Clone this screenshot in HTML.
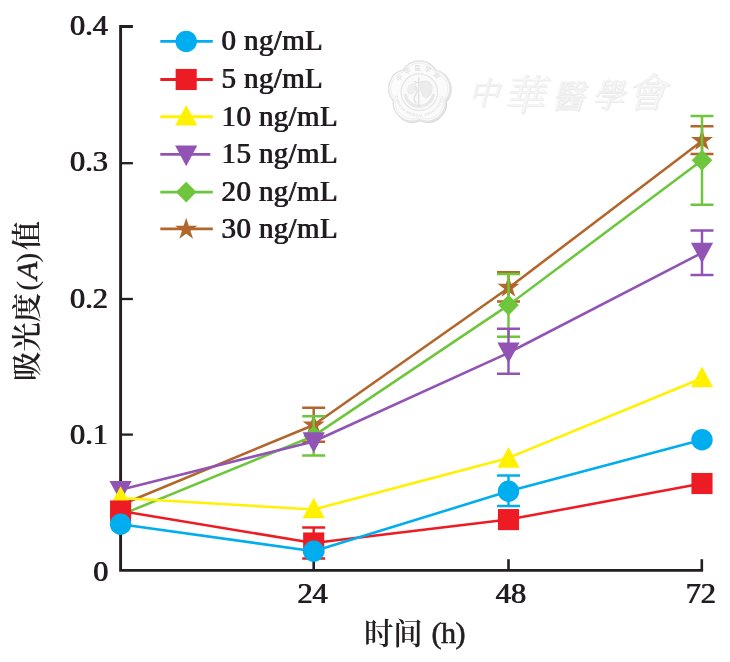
<!DOCTYPE html>
<html lang="zh-CN">
<head>
<meta charset="utf-8">
<title>吸光度(A)值 - 时间 (h)</title>
<style>
html,body{margin:0;padding:0;background:#fff;}
body{width:730px;height:662px;overflow:hidden;}
svg{display:block;}
text{font-family:"Liberation Serif","Noto Serif CJK SC",serif;fill:#231f20;}
.lg{font-size:28.9px;letter-spacing:0.4px;font-weight:normal;}
.tk text{font-size:30.3px;font-weight:normal;}
.ttl{font-family:"Liberation Serif","Noto Serif CJK SC",serif;font-size:29.4px;font-weight:600;}
.lat{font-weight:normal;font-size:30.2px;stroke:#231f20;stroke-width:0.6px;}
.lat2{font-weight:normal;font-size:30.2px;}
.it{stroke:#231f20;stroke-width:0.5px;}
.wmt{font-family:"Liberation Serif","Noto Serif CJK SC","Noto Sans CJK TC",serif;font-weight:300;fill:#f7f7f7;stroke:#eeeeee;stroke-width:0.4px;font-style:italic;}
.wms{font-family:"Liberation Sans","Noto Sans CJK SC",sans-serif;fill:#e2e2e2;font-weight:bold;}
</style>
</head>
<body>
<svg width="730" height="662" viewBox="0 0 730 662">
<rect width="730" height="662" fill="#ffffff"/>
<defs><filter id="semi" x="-5%" y="-5%" width="110%" height="110%"><feOffset dx="0.8" dy="0" result="o"/><feMerge><feMergeNode in="SourceGraphic"/><feMergeNode in="o"/></feMerge></filter><filter id="emb" x="-5%" y="-10%" width="110%" height="125%"><feGaussianBlur stdDeviation="0.45" result="b"/><feOffset in="b" dx="0.9" dy="1.1" result="o"/><feComponentTransfer in="o" result="sh"><feFuncR type="linear" slope="0.93"/><feFuncG type="linear" slope="0.93"/><feFuncB type="linear" slope="0.93"/></feComponentTransfer><feMerge><feMergeNode in="sh"/><feMergeNode in="b"/></feMerge></filter></defs>
<g id="watermark" filter="url(#emb)">
<path d="M403.18 70.02 A18.8 18.8 0 0 1 435.42 70.02 A18.8 18.8 0 0 1 445.38 100.67 A18.8 18.8 0 0 1 419.3 119.62 A18.8 18.8 0 0 1 393.22 100.67 A18.8 18.8 0 0 1 403.18 70.02Z" fill="#fbfbfb" stroke="#e3e3e3" stroke-width="1.5"/>
<path d="M404.28 71.53 A17.6 17.6 0 0 1 434.32 71.53 A17.6 17.6 0 0 1 443.6 100.1 A17.6 17.6 0 0 1 419.3 117.75 A17.6 17.6 0 0 1 395 100.1 A17.6 17.6 0 0 1 404.28 71.53Z" fill="none" stroke="#ebebeb" stroke-width="0.8"/>
<circle cx="419.3" cy="92.2" r="18.3" fill="#fafafa" stroke="#e4e4e4" stroke-width="1.1"/>
<path d="M405.1 93.7 A14.3 14.3 0 0 0 433.5 93.7" fill="none" stroke="#e9e9e9" stroke-width="3.2"/>
<path d="M420.8 83.2 q4 -4 9 -1 q4 4 2 9 q-1 5 -6 7 q-3 -1 -4 -5 q-2 -4 -1 -10z" fill="#ececec" stroke="#e4e4e4" stroke-width="0.7"/>
<path d="M407.3 88.2 q3 -5 8 -5 q2 4 0 8 q-3 4 -7 2z" fill="#efefef" stroke="#e6e6e6" stroke-width="0.6"/>
<path d="M418.8 77.2 V106.2 M414.3 81.2 q4.5 3 9 0 M415.3 86.2 q3.5 5 0 9 q-3 4 1 8" fill="none" stroke="#e0e0e0" stroke-width="1.3"/>
<path id="arcT" d="M397.3 92.2 A22 22 0 0 1 441.3 92.2" fill="none"/>
<path id="arcB" d="M394.8 92.2 A24.5 24.5 0 0 0 443.8 92.2" fill="none"/>
<text class="wms" font-size="6.2" letter-spacing="3.4" fill="#dcdcdc"><textPath href="#arcT" startOffset="50%" text-anchor="middle">中华医学会</textPath></text>
<text class="wms" font-size="3.6" letter-spacing="0.35"><textPath href="#arcB" startOffset="50%" text-anchor="middle">CHINESE MEDICAL ASSOCIATION</textPath></text>
<text class="wmt" x="468" y="103.5" font-size="31">中</text>
<text class="wmt" x="502.5" y="110" font-size="42">華</text>
<text class="wmt" x="551" y="108" font-size="33">醫</text>
<text class="wmt" x="591" y="106.5" font-size="33">學</text>
<text class="wmt" x="626" y="106.5" font-size="40">會</text>
</g>
<g fill="none" stroke="#231f20" stroke-width="2.9" stroke-linecap="butt">
<path d="M120.6 25.05 V570.4 H703.1" stroke-linejoin="miter"/>
<path d="M120.6 434.6 H132.9" stroke-width="2.3"/>
<path d="M120.6 299 H132.9" stroke-width="2.3"/>
<path d="M120.6 163.2 H132.9" stroke-width="2.3"/>
<path d="M120.6 26.5 H132.9" stroke-width="3.0"/>
<path d="M313.7 570.4 V559.2" stroke-width="2.6"/>
<path d="M508.5 570.4 V559.2" stroke-width="2.6"/>
<path d="M701.8 570.4 V559.2" stroke-width="2.6"/>
</g>
<g id="s-brown">
<polyline points="120.6,505 313.7,425 508.5,288 702,140.9" fill="none" stroke="#b2662a" stroke-width="2.55" stroke-linejoin="round"/>
<path d="M302.2 407.7 H325.2 M302.2 441.7 H325.2 M313.7 407.7 V441.7" fill="none" stroke="#b2662a" stroke-width="2.45"/>
<path d="M497 272.2 H520 M497 301.5 H520 M508.5 272.2 V301.5" fill="none" stroke="#b2662a" stroke-width="2.45"/>
<path d="M690.5 126.3 H713.5 M690.5 154 H713.5 M702 126.3 V154" fill="none" stroke="#b2662a" stroke-width="2.45"/>
<polygon points="120.6,493.8 123.22,501.85 131.68,501.85 124.83,506.83 127.45,514.88 120.6,509.9 113.75,514.88 116.37,506.83 109.52,501.85 117.98,501.85" fill="#b2662a"/>
<polygon points="313.7,413.5 316.32,421.55 324.78,421.55 317.93,426.53 320.55,434.58 313.7,429.6 306.85,434.58 309.47,426.53 302.62,421.55 311.08,421.55" fill="#b2662a"/>
<polygon points="508.5,275.7 511.12,283.75 519.58,283.75 512.73,288.73 515.35,296.78 508.5,291.8 501.65,296.78 504.27,288.73 497.42,283.75 505.88,283.75" fill="#b2662a"/>
<polygon points="702,128.9 704.62,136.95 713.08,136.95 706.23,141.93 708.85,149.98 702,145 695.15,149.98 697.77,141.93 690.92,136.95 699.38,136.95" fill="#b2662a"/>
</g>
<g id="s-green">
<polyline points="120.6,515 313.7,435.9 508.5,305.1 702,160.3" fill="none" stroke="#6dc63c" stroke-width="2.55" stroke-linejoin="round"/>
<path d="M302.2 416.2 H325.2 M302.2 455.5 H325.2 M313.7 416.2 V455.5" fill="none" stroke="#6dc63c" stroke-width="2.45"/>
<path d="M497 273.9 H520 M497 336.8 H520 M508.5 273.9 V336.8" fill="none" stroke="#6dc63c" stroke-width="2.45"/>
<path d="M690.5 116 H713.5 M690.5 204.8 H713.5 M702 116 V204.8" fill="none" stroke="#6dc63c" stroke-width="2.45"/>
<polygon points="120.6,504.6 130.9,515 120.6,525.4 110.3,515" fill="#6dc63c"/>
<polygon points="313.7,425.5 324,435.9 313.7,446.3 303.4,435.9" fill="#6dc63c"/>
<polygon points="508.5,294.7 518.8,305.1 508.5,315.5 498.2,305.1" fill="#6dc63c"/>
<polygon points="702,149.9 712.3,160.3 702,170.7 691.7,160.3" fill="#6dc63c"/>
</g>
<g id="s-purple">
<polyline points="120.6,489.8 313.7,441.5 508.5,352.8 702,252.8" fill="none" stroke="#9154b4" stroke-width="2.55" stroke-linejoin="round"/>
<path d="M497 328.7 H520 M497 373.8 H520 M508.5 328.7 V373.8" fill="none" stroke="#9154b4" stroke-width="2.45"/>
<path d="M690.5 230.5 H713.5 M690.5 275 H713.5 M702 230.5 V275" fill="none" stroke="#9154b4" stroke-width="2.45"/>
<polygon points="109.5,480.94 131.7,480.94 120.6,501.54" fill="#9154b4"/>
<polygon points="302.6,432.14 324.8,432.14 313.7,452.74" fill="#9154b4"/>
<polygon points="497.4,342.44 519.6,342.44 508.5,363.04" fill="#9154b4"/>
<polygon points="690.9,242.74 713.1,242.74 702,263.34" fill="#9154b4"/>
</g>
<g id="s-yellow">
<polyline points="120.6,498 313.7,509.5 508.5,457.9 702,378.3" fill="none" stroke="#fff100" stroke-width="2.55" stroke-linejoin="round"/>
<polygon points="120.6,486.26 131.7,506.86 109.5,506.86" fill="#fff100"/>
<polygon points="313.7,497.76 324.8,518.36 302.6,518.36" fill="#fff100"/>
<polygon points="508.5,447.06 519.6,467.66 497.4,467.66" fill="#fff100"/>
<polygon points="702,366.56 713.1,387.16 690.9,387.16" fill="#fff100"/>
</g>
<g id="s-red">
<polyline points="120.6,511 313.7,543 508.5,519.6 702,483.5" fill="none" stroke="#ed1c24" stroke-width="2.55" stroke-linejoin="round"/>
<path d="M302.2 527.4 H325.2 M302.2 558.5 H325.2 M313.7 527.4 V558.5" fill="none" stroke="#ed1c24" stroke-width="2.45"/>
<rect x="110.05" y="500.45" width="21.1" height="21.1" fill="#ed1c24"/>
<rect x="303.15" y="532.45" width="21.1" height="21.1" fill="#ed1c24"/>
<rect x="497.95" y="509.05" width="21.1" height="21.1" fill="#ed1c24"/>
<rect x="691.45" y="472.95" width="21.1" height="21.1" fill="#ed1c24"/>
</g>
<g id="s-blue">
<polyline points="120.6,524.3 313.7,551.2 508.5,491.3 702,439.7" fill="none" stroke="#00adee" stroke-width="2.55" stroke-linejoin="round"/>
<path d="M497 475.4 H520 M497 506 H520 M508.5 475.4 V506" fill="none" stroke="#00adee" stroke-width="2.45"/>
<circle cx="120.6" cy="524.3" r="10.7" fill="#00adee"/>
<circle cx="313.7" cy="551.2" r="10.7" fill="#00adee"/>
<circle cx="508.5" cy="491.3" r="10.7" fill="#00adee"/>
<circle cx="702" cy="439.7" r="10.7" fill="#00adee"/>
</g>
<g id="legend">
<path d="M160.3 41.4 H212.8" stroke="#00adee" stroke-width="2.9" fill="none"/>
<circle cx="186.2" cy="41.4" r="10.7" fill="#00adee"/>
<path d="M160.3 79.5 H212.8" stroke="#ed1c24" stroke-width="2.9" fill="none"/>
<rect x="175.65" y="68.95" width="21.1" height="21.1" fill="#ed1c24"/>
<path d="M160.3 116.7 H212.8" stroke="#fff100" stroke-width="2.9" fill="none"/>
<polygon points="186.2,104.96 197.3,125.56 175.1,125.56" fill="#fff100"/>
<path d="M160.3 154.4 H210.3" stroke="#9154b4" stroke-width="2.9" fill="none"/>
<polygon points="175.1,145.54 197.3,145.54 186.2,166.14" fill="#9154b4"/>
<path d="M160.3 192.1 H212.8" stroke="#6dc63c" stroke-width="2.9" fill="none"/>
<polygon points="186.2,181.7 196.5,192.1 186.2,202.5 175.9,192.1" fill="#6dc63c"/>
<path d="M160.3 228.9 H212.8" stroke="#b2662a" stroke-width="2.9" fill="none"/>
<polygon points="186.2,217.7 188.82,225.75 197.28,225.75 190.43,230.73 193.05,238.78 186.2,233.8 179.35,238.78 181.97,230.73 175.12,225.75 183.58,225.75" fill="#b2662a"/>
</g>
<g class="lgt" filter="url(#semi)">
<text x="221.1" y="50.3" class="lg">0 ng/mL</text>
<text x="221.1" y="88.4" class="lg">5 ng/mL</text>
<text x="221.1" y="125.6" class="lg">10 ng/mL</text>
<text x="221.1" y="163.3" class="lg">15 ng/mL</text>
<text x="221.1" y="201" class="lg">20 ng/mL</text>
<text x="221.1" y="237.8" class="lg">30 ng/mL</text>
</g>
<g class="tk" filter="url(#semi)">
<text x="108.0" y="581.3" text-anchor="end">0</text>
<text x="107.4" y="444.3" text-anchor="end">0.1</text>
<text x="107.4" y="308.2" text-anchor="end">0.2</text>
<text x="107.4" y="171" text-anchor="end">0.3</text>
<text x="107.4" y="34.7" text-anchor="end">0.4</text>
<text x="312.1" y="602.6" text-anchor="middle">24</text>
<text x="510.5" y="602.6" text-anchor="middle">48</text>
<text x="700.3" y="602.6" text-anchor="middle">72</text>
</g>
<text class="ttl" x="363.9" y="644.4">时间 <tspan class="lat" x="431.6" y="642.9" letter-spacing="-0.6">(h)</tspan></text>
<text class="ttl" transform="translate(37.2 381) rotate(-90)">吸光度<tspan class="lat2" dx="2.2">(</tspan><tspan class="lat2 it" dx="0.6" font-style="italic">A</tspan><tspan class="lat2" dx="-1.2">)</tspan><tspan dx="2.5">值</tspan></text>
</svg>
</body>
</html>
